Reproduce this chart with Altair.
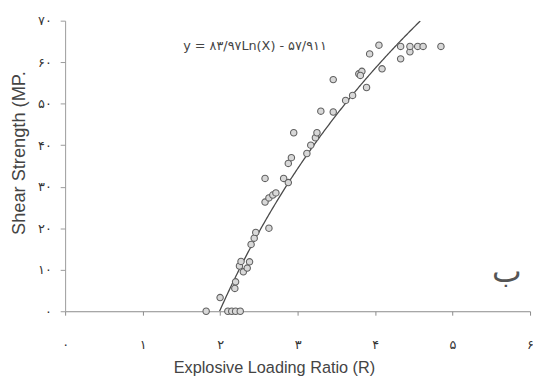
import math
import altair as alt
import pandas as pd

# Data
ratio = [1.82, 2.10, 2.15, 2.20, 2.26, 2.00, 2.19, 2.20, 2.25, 2.30,
         2.35, 2.27, 2.38, 2.40, 2.44, 2.46, 2.63, 2.58, 2.63, 2.68,
         2.72, 2.58, 2.82, 2.88, 2.88, 2.92, 2.95, 3.12, 3.17, 3.23,
         3.25, 3.30, 3.46, 3.46, 3.62, 3.71, 3.89, 3.79, 3.83, 3.81,
         3.93, 4.05, 4.09, 4.33, 4.33, 4.45, 4.45, 4.55, 4.62, 4.85]
strength = [0.0, 0.0, 0.0, 0.0, 0.0, 3.3, 5.5, 7.1, 10.9, 9.5,
            10.4, 12.0, 11.9, 16.1, 17.6, 19.0, 20.0, 26.3, 27.3, 28.0,
            28.5, 32.0, 32.0, 31.0, 35.6, 37.0, 43.0, 38.0, 40.0, 41.8,
            43.0, 48.2, 48.0, 55.8, 50.8, 52.0, 53.9, 57.2, 57.8, 56.8,
            62.0, 64.1, 58.4, 60.8, 63.8, 62.5, 63.8, 63.8, 63.8, 63.8]

# Printed trend equation: y = 83.97 Ln(x) - 57.911
coef_a = 83.97
coef_b = -57.911

x_ticks = [0, 1, 2, 3, 4, 5, 6]
x_tick_labels = ["۰", "۱", "۲", "۳", "۴", "۵", "۶"]
y_ticks = [0, 10, 20, 30, 40, 50, 60, 70]
y_tick_labels = ["۰", "۱۰", "۲۰", "۳۰", "۴۰", "۵۰", "۶۰", "۷۰"]

equation_text = "y = ۸۳/۹۷Ln(X) - ۵۷/۹۱۱"
panel_letter = "ب"


def label_expr(values, labels):
    expr = "''"
    for v, l in reversed(list(zip(values, labels))):
        expr = f"datum.value == {v} ? '{l}' : ({expr})"
    return expr


pts = pd.DataFrame({"R": ratio, "S": strength})

x_scale = alt.Scale(domain=[0, 6], nice=False, zero=False)
y_scale = alt.Scale(domain=[0, 70], nice=False)

x_axis = alt.Axis(
    values=x_ticks, labelExpr=label_expr(x_ticks, x_tick_labels),
    title="Explosive Loading Ratio (R)", grid=False,
    domainColor="#8a8a8a", tickColor="#8a8a8a", tickSize=4,
    labelFont="DejaVu Sans", labelFontSize=13, labelColor="#333",
    labelPadding=24, labelFlush=False,
    titleFont="Liberation Sans", titleFontSize=16.5, titleFontWeight="normal",
    titleColor="#444", titleX=212, titleY=57, titleBaseline="middle",
    titleAnchor="start", titleAlign="center",
)
y_axis = alt.Axis(
    values=y_ticks, labelExpr=label_expr(y_ticks, y_tick_labels),
    title="Shear Strength (MP.", grid=False,
    domainColor="#9a9a9a", tickColor="#9a9a9a", tickSize=5,
    labelFont="DejaVu Sans", labelFontSize=13, labelColor="#333",
    labelPadding=9,
    titleFont="Liberation Sans", titleFontSize=18.5, titleFontWeight="normal",
    titleColor="#444", titleX=-47, titleY=134, titleAngle=270,
    titleAlign="center", titleBaseline="middle",
)

points = alt.Chart(pts).mark_point(
    shape="circle", filled=True, fill="#d8d8d8", stroke="#606060",
    strokeWidth=1.1, size=42, opacity=1,
).encode(
    x=alt.X("R:Q", scale=x_scale, axis=x_axis),
    y=alt.Y("S:Q", scale=y_scale, axis=y_axis),
)

x_start = math.exp(-coef_b / coef_a)
x_end = math.exp((70 - coef_b) / coef_a)
curve = alt.Chart(alt.sequence(x_start, x_end + 0.005, 0.01, as_="R")).transform_calculate(
    S=f"{coef_a} * log(datum.R) + ({coef_b})"
).mark_line(color="#4a4a4a", strokeWidth=1.3, clip=True).encode(
    x=alt.X("R:Q", scale=x_scale),
    y=alt.Y("S:Q", scale=y_scale),
)

eq = alt.Chart(pd.DataFrame({"R": [2.45], "S": [63.9], "t": [equation_text]})).mark_text(
    font="DejaVu Sans", fontSize=13, color="#444", align="center", baseline="middle"
).encode(x=alt.X("R:Q", scale=x_scale), y=alt.Y("S:Q", scale=y_scale), text="t:N")

letter = alt.Chart(pd.DataFrame({"R": [5.7], "S": [9.5], "t": [panel_letter]})).mark_text(
    font="DejaVu Sans", fontSize=32, color="#555", align="center", baseline="middle"
).encode(x=alt.X("R:Q", scale=x_scale), y=alt.Y("S:Q", scale=y_scale), text="t:N")

chart = alt.layer(curve, points, eq, letter).properties(
    width=472, height=295,
    autosize=alt.AutoSizeParams(type="none"),
    padding={"left": 58, "top": 10, "right": 3, "bottom": 72},
).configure_view(stroke=None)

chart.save("out.html", embed_options={"renderer": "svg", "actions": False})
